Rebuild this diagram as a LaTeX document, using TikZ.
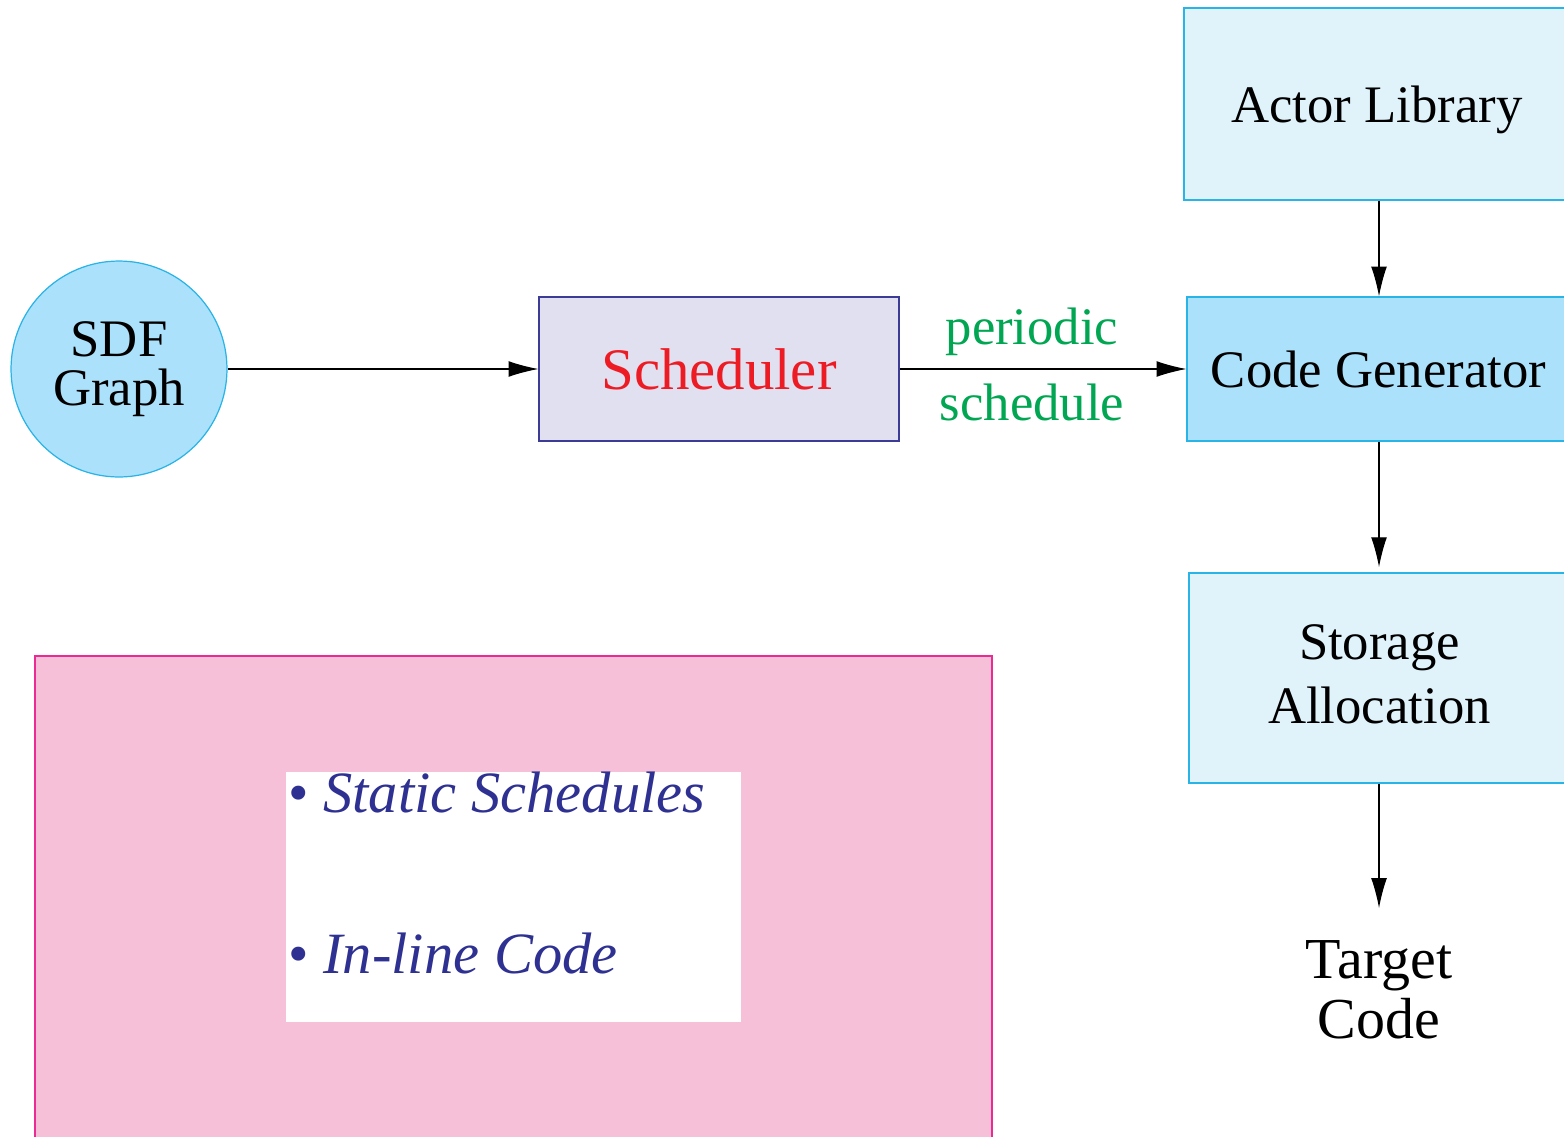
\documentclass[tikz,border=0pt]{standalone}
\usepackage{fontspec}
\setmainfont{Liberation Serif}
\usetikzlibrary{arrows.meta}
\definecolor{cblue}{HTML}{ABE1FA}
\definecolor{clight}{HTML}{E0F3FA}
\definecolor{cborder}{HTML}{29B4E8}
\definecolor{schfill}{HTML}{E0E0F0}
\definecolor{schdraw}{HTML}{3C3C96}
\definecolor{cred}{HTML}{ED1C24}
\definecolor{cgreen}{HTML}{00A651}
\definecolor{cnavy}{HTML}{2E3192}
\definecolor{pinkfill}{HTML}{F5C0D8}
\definecolor{pinkdraw}{HTML}{EC2A94}
\tikzset{
  txt/.style={font=\fontsize{30}{34}\selectfont, align=center},
  box/.style={draw=cborder, line width=0.7pt, txt},
  conn/.style={line width=0.6pt, -{Latex[length=17pt,width=9pt]}},
  lbl/.style={text=cgreen, txt, inner sep=0},
  bullet/.style={anchor=base west, inner sep=0, text=cnavy, font=\fontsize{33.3}{36}\selectfont},
}
\begin{document}
\begin{tikzpicture}[x=0.02cm, y=-0.02cm]
\useasboundingbox (0,0) rectangle (1564,1136);
\clip (0,0) rectangle (1564,1136);
% pink area
\node (pink) [draw=pinkdraw, fill=pinkfill, line width=0.7pt, minimum width=19.14cm, minimum height=9.8cm, inner sep=0] at (513.5,901) {};
\node (white) [fill=white, minimum width=9.1cm, minimum height=5cm, inner sep=0] at (513.5,897) {};
\node (b1) [bullet] at (288,812) {•\ \textit{Static Schedules}};
\node (b2) [bullet] at (288,973) {•\ \textit{In-line Code}};
% graph
\node (sdf) [circle, draw=cborder, fill=cblue, line width=0.7pt, minimum size=4.32cm, inner sep=0, font=\fontsize{30}{27.5}\selectfont, align=center] at (119,369) {SDF\\Graph};
\node (sch) [draw=schdraw, fill=schfill, line width=0.7pt, minimum width=7.2cm, minimum height=2.88cm, txt, font=\fontsize{33.5}{36}\selectfont, text=cred] at (719,369) {Scheduler};
\node (lib) [box, fill=clight, minimum width=7.72cm, minimum height=3.84cm, text depth=0pt] at (1377,104) {Actor Library};
\node (gen) [box, fill=cblue, minimum width=7.66cm, minimum height=2.88cm] at (1378.5,369) {Code Generator};
\node (sto) [box, fill=clight, minimum width=7.62cm, minimum height=4.2cm, font=\fontsize{30}{36}\selectfont, text depth=4.5pt] at (1379.5,678) {Storage\\Allocation};
\node (tgt) [txt, inner sep=0, font=\fontsize{33}{34}\selectfont] at (1379,990) {Target\\Code};
\node (lp) [lbl] at (1032,332) {periodic};
\node (ls) [lbl] at (1032,402) {schedule};
\coordinate (tgtin) at (1379,908);
\draw[conn] (sdf) -- (sch);
\draw[conn] (sch) -- (gen);
\draw[conn] (lib.south -| 1379,0) -- (gen.north -| 1379,0);
\draw[conn, shorten >=3pt] (gen.south -| 1379,0) -- (sto.north -| 1379,0);
\draw[conn] (sto.south -| 1379,0) -- (tgtin);
\end{tikzpicture}
\end{document}
